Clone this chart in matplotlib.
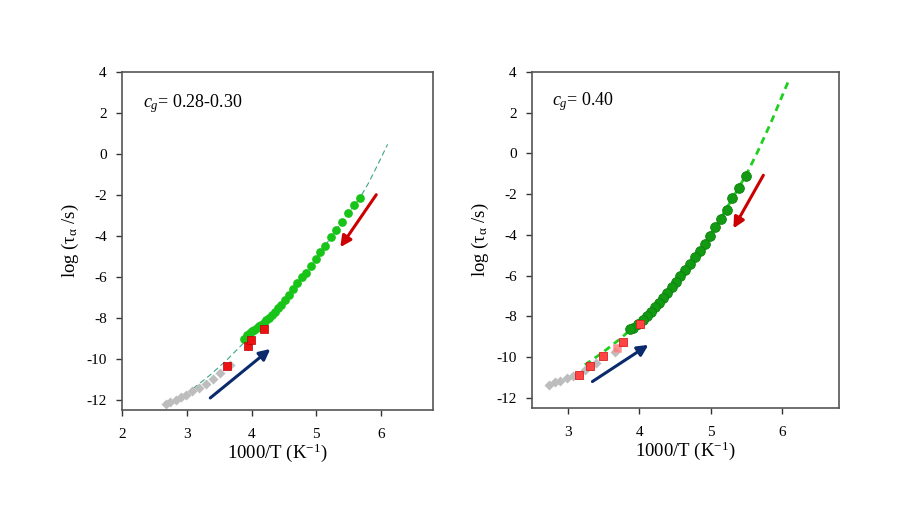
import matplotlib.pyplot as plt

plt.rcParams['font.family'] = ['Liberation Serif', 'DejaVu Serif']
plt.rcParams['mathtext.fontset'] = 'custom'
plt.rcParams['mathtext.rm'] = 'Liberation Serif'
plt.rcParams['mathtext.it'] = 'Liberation Serif:italic'
plt.rcParams['axes.unicode_minus'] = False

# ---- panel a: c_g = 0.28-0.30 ----
a_green_x = [5.668, 5.575, 5.483, 5.395, 5.308, 5.220, 5.138, 5.061, 4.989, 4.922,
             4.845, 4.778, 4.706, 4.639, 4.577, 4.521, 4.459, 4.407, 4.356, 4.310,
             4.269, 4.227, 4.186, 4.150, 4.114, 4.078, 4.042, 4.006, 3.970, 3.929, 3.878]
a_green_y = [-2.14, -2.50, -2.87, -3.30, -3.69, -4.06, -4.47, -4.81, -5.12, -5.48,
             -5.79, -6.03, -6.28, -6.57, -6.88, -7.12, -7.37, -7.51, -7.71, -7.87,
             -8.00, -8.11, -8.23, -8.33, -8.41, -8.49, -8.57, -8.65, -8.75, -8.83, -9.04]
a_red_x = [3.626, 3.939, 3.986, 4.191]
a_red_y = [-10.35, -9.39, -9.06, -8.56]
a_gray_x = [2.674, 2.747, 2.829, 2.906, 2.993, 3.086, 3.188, 3.292, 3.404, 3.519, 3.662]
a_gray_y = [-12.23, -12.12, -12.00, -11.88, -11.75, -11.58, -11.42, -11.22, -11.01, -10.70, -10.29]
a_fit_x = [3.10, 3.35, 3.61, 3.84, 4.2, 4.5, 4.8, 5.1, 5.4, 5.68, 5.80, 5.93, 6.10]
a_fit_y = [-11.45, -10.82, -10.08, -9.35, -8.2, -7.2, -5.95, -4.64, -3.28, -2.11, -1.45, -0.64, 0.47]

# ---- panel b: c_g = 0.40 ----
b_green_x = [5.493, 5.395, 5.305, 5.226, 5.147, 5.067, 4.992, 4.922, 4.852, 4.782,
             4.711, 4.641, 4.571, 4.515, 4.455, 4.393, 4.337, 4.281, 4.221, 4.161,
             4.104, 4.048, 3.987, 3.917, 3.870]
b_green_y = [-1.13, -1.69, -2.21, -2.76, -3.21, -3.60, -4.04, -4.43, -4.77, -5.08,
             -5.41, -5.74, -6.04, -6.29, -6.57, -6.83, -7.08, -7.32, -7.55, -7.78,
             -7.98, -8.17, -8.37, -8.55, -8.63]
b_red_x = [3.159, 3.319, 3.496, 3.768, 4.011]
b_red_y = [-10.87, -10.46, -9.97, -9.28, -8.37]
b_pale_x = [3.692]
b_pale_y = [-9.56]
b_gray_x = [2.738, 2.818, 2.898, 2.991, 3.075, 3.239, 3.403, 3.660]
b_gray_y = [-11.39, -11.24, -11.15, -11.03, -10.92, -10.62, -10.30, -9.73]
b_fit_x = [3.24, 3.48, 3.70, 3.90, 4.2, 4.5, 4.8, 5.1, 5.35, 5.51, 5.67, 5.86, 6.10]
b_fit_y = [-10.38, -9.80, -9.20, -8.60, -7.63, -6.40, -5.00, -3.44, -1.95, -0.98, 0.16, 1.63, 3.63]

fig = plt.figure(figsize=(9.13, 5.14), dpi=100)
ax1 = fig.add_axes([0.1336, 0.2023, 0.3406, 0.6576])
ax2 = fig.add_axes([0.5827, 0.2062, 0.3363, 0.6537])


def style_axes(ax, xlim, xticks):
    ax.set_xlim(*xlim)
    ax.set_ylim(-12.5, 4)
    ax.set_xticks(xticks)
    ax.set_yticks(range(-12, 5, 2))
    ax.tick_params(direction='out', length=4, width=1, labelsize=11, colors='#333333',
                   labelcolor='black')
    ax.tick_params(axis='x', pad=9)
    ax.tick_params(axis='y', pad=7)
    for s in ax.spines.values():
        s.set_color('#555555')
        s.set_linewidth(1.2)
    ax.set_xlabel('1000/T (K$^{-1}$)', fontsize=13.5, labelpad=0.5)
    ax.set_ylabel(r'log ($\mathrm{\tau_\alpha}$ /s)', fontsize=13.5, labelpad=4)


def arrow(ax, start, end, color):
    ax.annotate('', xy=end, xytext=start,
                arrowprops=dict(arrowstyle='-|>', color=color, lw=2.2,
                                mutation_scale=16, shrinkA=0, shrinkB=0))


# panel a
ax1.plot(a_fit_x, a_fit_y, ls=(0, (5, 3)), color='#3aa58a', lw=0.8, zorder=1)
ax1.plot(a_gray_x, a_gray_y, 'D', color='#bdbdbd', ms=5, mec='none', zorder=2)
ax1.plot(a_green_x, a_green_y, 'o', color='#18c418', ms=6.3, mec='none', zorder=3)
ax1.plot(a_red_x, a_red_y, 's', color='#ee1111', ms=6.3, mec='#bb0000', mew=0.5, zorder=4)
arrow(ax1, (5.925, -1.99), (5.37, -4.55), '#cc0000')
arrow(ax1, (3.363, -11.91), (4.29, -9.52), '#0b2a6b')
ax1.text(2.32, 2.45, r'$c_g$= 0.28-0.30', fontsize=13, va='center')
style_axes(ax1, (2, 6.8), [2, 3, 4, 5, 6])

# panel b
ax2.plot(b_fit_x, b_fit_y, ls=(0, (2.5, 1.8)), color='#1ecf1e', lw=2, zorder=1)
ax2.plot(b_gray_x, b_gray_y, 'D', color='#bdbdbd', ms=5, mec='none', zorder=2)
ax2.plot(b_green_x, b_green_y, 'o', color='#139a13', ms=7, mec='#0c800c', mew=0.6, zorder=3)
ax2.plot(b_pale_x, b_pale_y, 's', color='#ff7777', ms=5.5, mec='#ff9999', mew=0.5,
         alpha=0.8, zorder=4)
ax2.plot(b_red_x, b_red_y, 's', color='#ff4444', ms=6.3, mec='#d82020', mew=0.6, zorder=4)
arrow(ax2, (5.74, -1.07), (5.32, -3.68), '#cc0000')
arrow(ax2, (3.346, -11.2), (4.13, -9.40), '#0b2a6b')
ax2.text(2.78, 2.55, r'$c_g$= 0.40', fontsize=13, va='center')
style_axes(ax2, (2.5, 6.8), [3, 4, 5, 6])

fig.savefig('out.png', dpi=100)
